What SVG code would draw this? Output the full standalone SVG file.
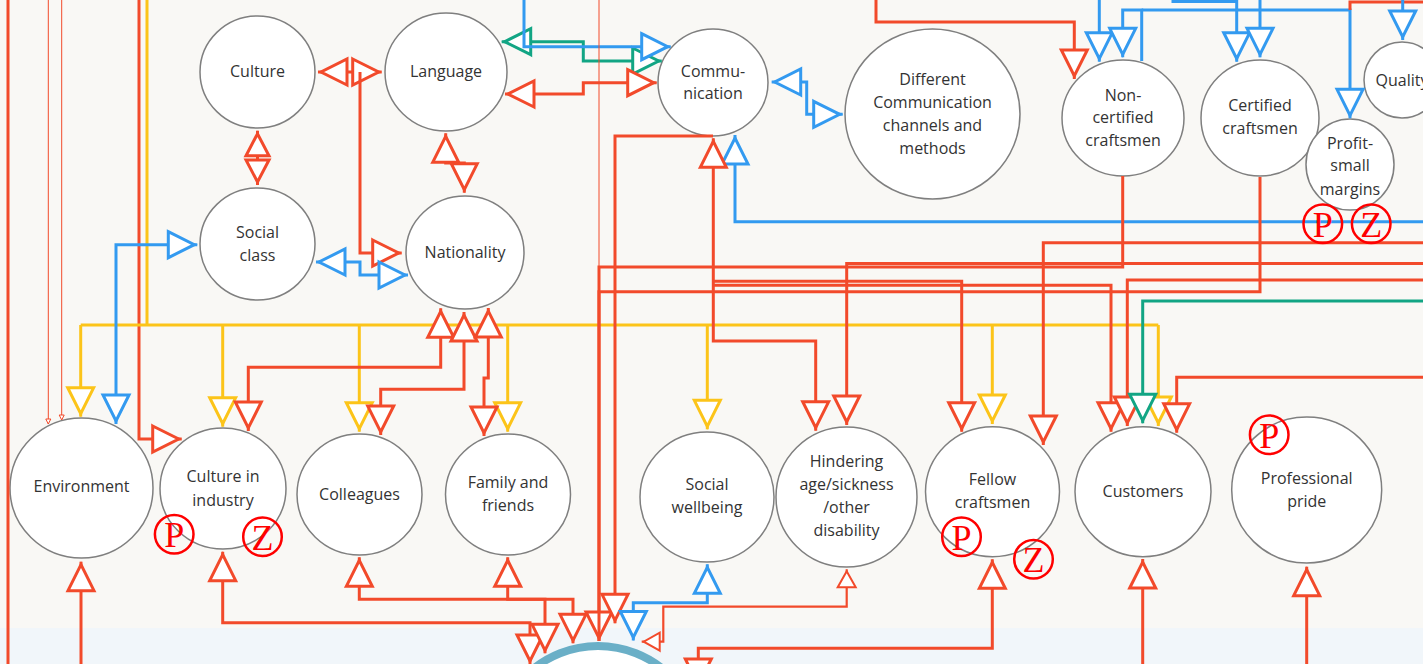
<svg xmlns="http://www.w3.org/2000/svg" width="1423" height="664" viewBox="0 0 1423 664">
<style>
.n ellipse{fill:#fff;stroke:#7f7f7f;stroke-width:1.5}
.n text{font-family:"Open Sans","Noto Sans",sans-serif;font-size:16px;fill:#333;text-anchor:middle}
.c{fill:none;stroke-width:3;stroke-linejoin:miter}
.r{stroke:#f24a2b}.b{stroke:#339af0}.y{stroke:#fcc419}.g{stroke:#12a584}
.mk circle{fill:none;stroke:#ff0000;stroke-width:2.5}
.mk text{font-family:"Liberation Serif",serif;font-size:36px;fill:#ff0000;text-anchor:middle}
</style>
<defs>
<marker id="aR" markerUnits="userSpaceOnUse" markerWidth="30" markerHeight="30" refX="29" refY="13" orient="auto-start-reverse" style="overflow:visible"><path d="M0,0 L26,13 L0,26 Z" fill="#fff" stroke="#f24a2b" stroke-width="3"/></marker>
<marker id="aB" markerUnits="userSpaceOnUse" markerWidth="30" markerHeight="30" refX="29" refY="13" orient="auto-start-reverse" style="overflow:visible"><path d="M0,0 L26,13 L0,26 Z" fill="#fff" stroke="#339af0" stroke-width="3"/></marker>
<marker id="aY" markerUnits="userSpaceOnUse" markerWidth="30" markerHeight="30" refX="29" refY="13" orient="auto-start-reverse" style="overflow:visible"><path d="M0,0 L26,13 L0,26 Z" fill="#fff" stroke="#fcc419" stroke-width="3"/></marker>
<marker id="aG" markerUnits="userSpaceOnUse" markerWidth="30" markerHeight="30" refX="29" refY="13" orient="auto-start-reverse" style="overflow:visible"><path d="M0,0 L26,13 L0,26 Z" fill="#fff" stroke="#12a584" stroke-width="3"/></marker>
<marker id="aRs" markerUnits="userSpaceOnUse" markerWidth="26" markerHeight="26" refX="25" refY="11.5" orient="auto-start-reverse" style="overflow:visible"><path d="M0,0 L22,11.5 L0,23 Z" fill="#fff" stroke="#f24a2b" stroke-width="3"/></marker>
<marker id="aRt" markerUnits="userSpaceOnUse" markerWidth="20" markerHeight="20" refX="18" refY="9" orient="auto-start-reverse" style="overflow:visible"><path d="M0,0 L16,9 L0,18 Z" fill="#fff" stroke="#f24a2b" stroke-width="2"/></marker>
<marker id="aRx" markerUnits="userSpaceOnUse" markerWidth="8" markerHeight="8" refX="5" refY="2.5" orient="auto" style="overflow:visible"><path d="M0,0 L5,2.5 L0,5 Z" fill="#fff" stroke="#f24a2b" stroke-width="1"/></marker>
</defs>
<rect x="0" y="0" width="1423" height="664" fill="#f9f8f5"/>
<rect x="0" y="628" width="1423" height="36" fill="#f1f6fa"/>

<g id="node-bottom" class="n"><circle cx="598" cy="749" r="103" fill="#fff" stroke="#6aafc7" stroke-width="8"/></g>
<g id="node-culture" class="n"><ellipse cx="257.5" cy="72" rx="57.5" ry="56"/><text x="257.5" y="76.5">Culture</text></g>
<g id="node-socialclass" class="n"><ellipse cx="257.5" cy="244" rx="57.5" ry="56"/><text x="257.5" y="237.5">Social</text><text x="257.5" y="261">class</text></g>
<g id="node-language" class="n"><ellipse cx="446" cy="72" rx="61" ry="59"/><text x="446" y="76.5">Language</text></g>
<g id="node-nationality" class="n"><ellipse cx="465" cy="252.5" rx="59" ry="56.5"/><text x="465" y="257.5">Nationality</text></g>
<g id="node-communication" class="n"><ellipse cx="713" cy="82.5" rx="55" ry="53.5"/><text x="713" y="76.5">Commu-</text><text x="713" y="99">nication</text></g>
<g id="node-channels" class="n"><ellipse cx="932.5" cy="114" rx="87.5" ry="85"/><text x="932.5" y="85">Different</text><text x="932.5" y="108">Communication</text><text x="932.5" y="130.5">channels and</text><text x="932.5" y="154">methods</text></g>
<g id="node-noncertified" class="n"><ellipse cx="1123" cy="118" rx="61" ry="58"/><text x="1123" y="100.5">Non-</text><text x="1123" y="123">certified</text><text x="1123" y="145.5">craftsmen</text></g>
<g id="node-certified" class="n"><ellipse cx="1260" cy="118" rx="59" ry="58"/><text x="1260" y="111">Certified</text><text x="1260" y="134">craftsmen</text></g>
<g id="node-profit" class="n"><ellipse cx="1350" cy="164.5" rx="44" ry="45.5"/><text x="1350" y="149">Profit-</text><text x="1350" y="171">small</text><text x="1350" y="194.5">margins</text></g>
<g id="node-quality" class="n"><ellipse cx="1402" cy="80" rx="38" ry="38"/><text x="1402" y="85.5">Quality</text></g>
<g id="node-environment" class="n"><ellipse cx="81.5" cy="488" rx="71.5" ry="70"/><text x="81.5" y="492">Environment</text></g>
<g id="node-cultureindustry" class="n"><ellipse cx="223" cy="488.5" rx="63" ry="60.5"/><text x="223" y="482">Culture in</text><text x="223" y="505.5">industry</text></g>
<g id="node-colleagues" class="n"><ellipse cx="359.5" cy="494.5" rx="62.5" ry="60.5"/><text x="359.5" y="499.5">Colleagues</text></g>
<g id="node-family" class="n"><ellipse cx="508" cy="494.5" rx="62.5" ry="60.5"/><text x="508" y="488">Family and</text><text x="508" y="510.5">friends</text></g>
<g id="node-wellbeing" class="n"><ellipse cx="707" cy="497" rx="67" ry="65"/><text x="707" y="490">Social</text><text x="707" y="513">wellbeing</text></g>
<g id="node-hindering" class="n"><ellipse cx="846.5" cy="497" rx="70.5" ry="70"/><text x="846.5" y="467">Hindering</text><text x="846.5" y="490">age/sickness</text><text x="846.5" y="513">/other</text><text x="846.5" y="536">disability</text></g>
<g id="node-fellow" class="n"><ellipse cx="992.5" cy="491.7" rx="67" ry="65"/><text x="992.5" y="485">Fellow</text><text x="992.5" y="508">craftsmen</text></g>
<g id="node-customers" class="n"><ellipse cx="1143" cy="491.7" rx="68" ry="65"/><text x="1143" y="497">Customers</text></g>
<g id="node-pride" class="n"><ellipse cx="1306.7" cy="490" rx="75" ry="73"/><text x="1306.7" y="484">Professional</text><text x="1306.7" y="507">pride</text></g>

<g id="connectors">
<!-- left edge lines -->
<path class="c r" d="M8,-5 L8,670"/>
<path class="r" fill="none" stroke-width="1" d="M48.3,-5 L48.3,424" marker-end="url(#aRx)"/>
<path class="r" fill="none" stroke-width="1" d="M61.7,-5 L61.7,420" marker-end="url(#aRx)"/>
<path class="c r" d="M139,-5 L139,439 L181.7,439" marker-end="url(#aR)"/>
<!-- yellow -->
<path class="c y" d="M147,-5 L147,325"/>
<path class="c y" d="M80.7,325 L1158.3,325"/>
<path class="c y" d="M80.7,325 L80.7,416.7" marker-end="url(#aY)"/>
<path class="c y" d="M222.7,325 L222.7,426.7" marker-end="url(#aY)"/>
<path class="c y" d="M359.3,325 L359.3,431.7" marker-end="url(#aY)"/>
<path class="c y" d="M507.7,325 L507.7,431.7" marker-end="url(#aY)"/>
<path class="c y" d="M707.3,325 L707.3,429.3" marker-end="url(#aY)"/>
<path class="c y" d="M992.3,325 L992.3,424" marker-end="url(#aY)"/>
<path class="c y" d="M1158.3,325 L1158.3,426" marker-end="url(#aY)"/>
<!-- upper-left cluster -->
<path class="c r" d="M318,72 L381.7,72" marker-start="url(#aR)" marker-end="url(#aR)"/>
<path class="c r" d="M360,72 L360,253 L401.7,253" marker-end="url(#aR)"/>
<path class="c r" d="M257.5,130.7 L257.5,185" marker-start="url(#aRs)" marker-end="url(#aRs)"/>
<path class="c b" d="M116,424 L116,244.7 L197.3,244.7" marker-start="url(#aB)" marker-end="url(#aB)"/>
<path class="c b" d="M316,262 L360,262 L360,275 L408,275" marker-start="url(#aB)" marker-end="url(#aB)"/>
<path class="c r" d="M445.7,133.3 L445.7,163 L464.3,163 L464.3,192.7" marker-start="url(#aR)" marker-end="url(#aR)"/>
<path class="c g" d="M501.7,41.7 L583.3,41.7 L583.3,61 L661.7,61" marker-start="url(#aG)" marker-end="url(#aG)"/>
<path class="c b" d="M524,-5 L524,46.7 L670.7,46.7" marker-end="url(#aB)"/>
<path class="c r" d="M505,94 L583.3,94 L583.3,82.7 L656.7,82.7" marker-start="url(#aR)" marker-end="url(#aR)"/>
<path class="c b" d="M771.7,82 L806.7,82 L806.7,114.3 L842.7,114.3" marker-start="url(#aB)" marker-end="url(#aB)"/>
<!-- top right -->
<path class="c r" d="M876,-5 L876,22 L1074.3,22 L1074.3,79" marker-end="url(#aR)"/>
<path class="c b" d="M1099.3,-5 L1099.3,61.7" marker-end="url(#aB)"/>
<path class="c b" d="M1141.7,61 L1141.7,10 L1122.7,10 L1122.7,57.3" marker-end="url(#aB)"/>
<path class="c b" d="M1141.7,10 L1350,10 L1350,118.3" marker-end="url(#aB)"/>
<path class="c r" d="M1430,2 L1350,2 L1350,10"/>
<path class="c b" d="M1173,-5 L1173,1.5 L1236.7,1.5 L1236.7,61.7" marker-end="url(#aB)"/>
<path class="c b" d="M1260,-5 L1260,57.3" marker-end="url(#aB)"/>
<path class="c b" d="M1402.7,-5 L1402.7,40" marker-end="url(#aB)"/>
<!-- middle horizontals -->
<path class="c b" d="M1430,221.7 L735,221.7 L735,135" marker-end="url(#aB)"/>
<path class="r" fill="none" stroke-width="1" d="M599,0 L599,267"/>
<path class="c r" d="M1122.7,176 L1122.7,267 L599,267 L599,641" marker-end="url(#aR)"/>
<path class="c r" d="M1260,177 L1260,291.7 L599,291.7 L599,641"/>
<path class="c r" d="M713,136 L615,136 L615,623.3" marker-end="url(#aR)"/>
<path class="c r" d="M713.3,138.3 L713.3,341 L815.7,341 L815.7,430.7" marker-start="url(#aR)" marker-end="url(#aR)"/>
<path class="c r" d="M713.3,281.3 L961.7,281.3 L961.7,431.7" marker-end="url(#aR)"/>
<path class="c r" d="M713.3,285.3 L1111,285.3 L1111,431.7" marker-end="url(#aR)"/>
<path class="c r" d="M1430,242.7 L1043.3,242.7 L1043.3,445" marker-end="url(#aR)"/>
<path class="c r" d="M1430,263.5 L846.7,263.5 L846.7,425" marker-end="url(#aR)"/>
<path class="c r" d="M1430,280 L1127.3,280 L1127.3,426" marker-end="url(#aR)"/>
<path class="c g" d="M1430,301 L1142.7,301 L1142.7,423.3" marker-end="url(#aG)"/>
<path class="c r" d="M1430,377.3 L1176.7,377.3 L1176.7,432.7" marker-end="url(#aR)"/>
<!-- nationality downward -->
<path class="c r" d="M440.7,308.3 L440.7,367.3 L248.3,367.3 L248.3,431" marker-start="url(#aR)" marker-end="url(#aR)"/>
<path class="c r" d="M464,312 L464,389.3 L380.7,389.3 L380.7,435" marker-start="url(#aR)" marker-end="url(#aR)"/>
<path class="c r" d="M488.3,308 L488.3,378 L484,378 L484,436" marker-start="url(#aR)" marker-end="url(#aR)"/>
<!-- bottom -->
<path class="c r" d="M81,670 L81,561.7" marker-end="url(#aR)"/>
<path class="c r" d="M222.7,551.7 L222.7,622.7 L530,622.7 L530,664" marker-start="url(#aR)" marker-end="url(#aR)"/>
<path class="c r" d="M359.3,557.3 L359.3,599.3 L545,599.3 L545,653.3" marker-start="url(#aR)" marker-end="url(#aR)"/>
<path class="c r" d="M507.7,557.3 L507.7,599.3 L573,599.3 L573,643.3" marker-start="url(#aR)" marker-end="url(#aR)"/>
<path class="c b" d="M707.3,564.3 L707.3,602.7 L633.3,602.7 L633.3,640.5" marker-start="url(#aB)" marker-end="url(#aB)"/>
<path class="r" fill="none" stroke-width="2.2" d="M846.7,569.3 L846.7,606.7 L663.3,606.7 L663.3,641.7 L641.7,641.7" marker-start="url(#aRt)" marker-end="url(#aRt)"/>
<path class="c r" d="M992.3,559.3 L992.3,648.3 L698.3,648.3 L698.3,688" marker-start="url(#aR)" marker-end="url(#aR)"/>
<path class="c r" d="M1142.7,670 L1142.7,559" marker-end="url(#aR)"/>
<path class="c r" d="M1306.7,670 L1306.7,566.7" marker-end="url(#aR)"/>
</g>

<g id="marks" class="mk">
<circle cx="174.2" cy="534.2" r="19.3"/><text x="174.2" y="547">P</text>
<circle cx="262.5" cy="536.7" r="19.3"/><text x="262.5" y="549.5">Z</text>
<circle cx="961.5" cy="536.7" r="19.3"/><text x="961.5" y="549.5">P</text>
<circle cx="1033.5" cy="559.2" r="19.3"/><text x="1033.5" y="572">Z</text>
<circle cx="1269.2" cy="434.7" r="19.3"/><text x="1269.2" y="447.5">P</text>
<circle cx="1322.8" cy="223.8" r="19.3"/><text x="1322.8" y="236.6">P</text>
<circle cx="1371.2" cy="223.8" r="19.3"/><text x="1371.2" y="236.6">Z</text>
</g>
</svg>
